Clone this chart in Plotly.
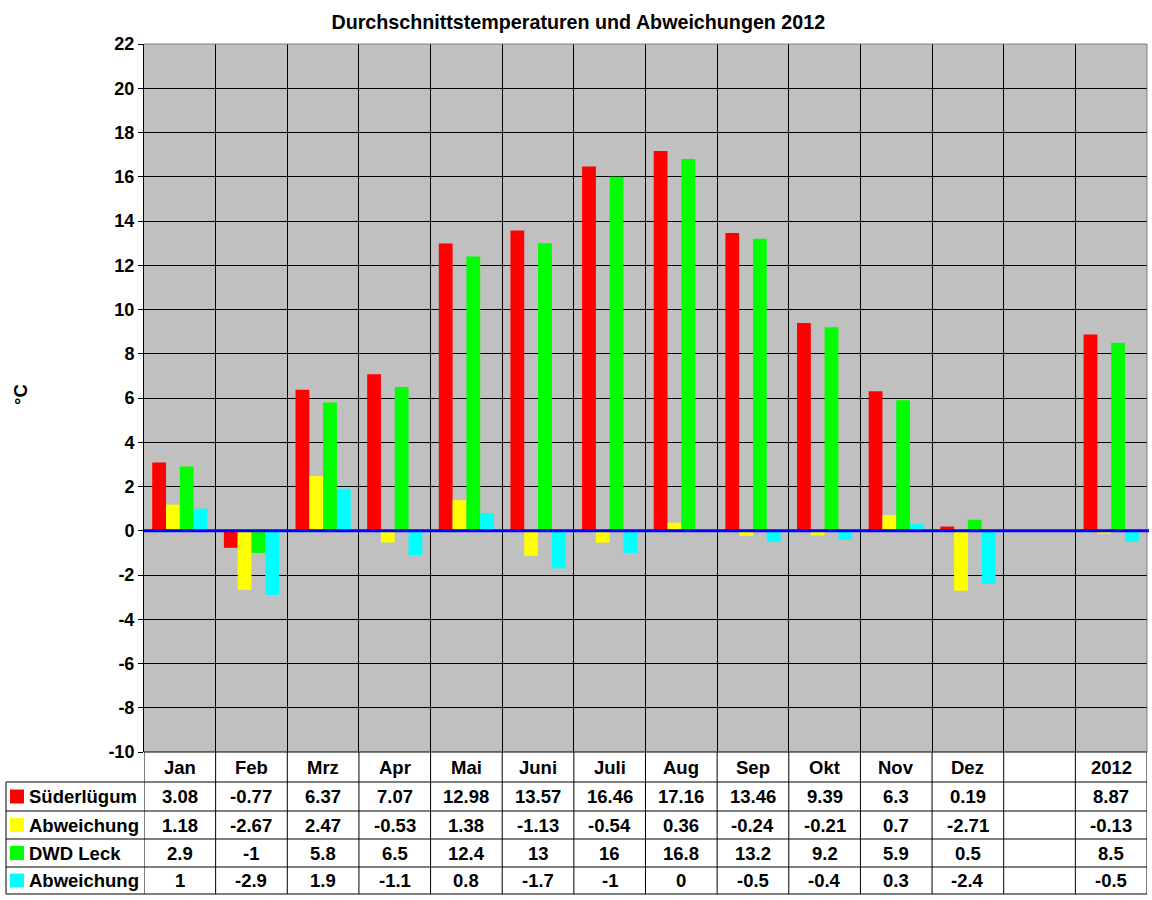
import plotly.graph_objects as go

months = ['Jan', 'Feb', 'Mrz', 'Apr', 'Mai', 'Juni', 'Juli', 'Aug', 'Sep', 'Okt', 'Nov', 'Dez', ' ', '2012']
sued = [3.08, -0.77, 6.37, 7.07, 12.98, 13.57, 16.46, 17.16, 13.46, 9.39, 6.3, 0.19, None, 8.87]
sued_abw = [1.18, -2.67, 2.47, -0.53, 1.38, -1.13, -0.54, 0.36, -0.24, -0.21, 0.7, -2.71, None, -0.13]
leck = [2.9, -1, 5.8, 6.5, 12.4, 13, 16, 16.8, 13.2, 9.2, 5.9, 0.5, None, 8.5]
leck_abw = [1, -2.9, 1.9, -1.1, 0.8, -1.7, -1, 0, -0.5, -0.4, 0.3, -2.4, None, -0.5]
y_ticks = [-10, -8, -6, -4, -2, 0, 2, 4, 6, 8, 10, 12, 14, 16, 18, 20, 22]

series = [
    ('Süderlügum', sued, '#FF0000'),
    ('Abweichung', sued_abw, '#FFFF00'),
    ('DWD Leck', leck, '#00FF00'),
    ('Abweichung', leck_abw, '#00FFFF'),
]

W, H = 1152, 900
L, R, T, B = 144, 5, 44, 148
ph = H - T - B
pw = W - L - R


def py(px):
    # pixel row -> paper y
    return (H - B - px) / ph


def fmt(v):
    return '' if v is None else f'{v:g}'


FAM = 'Arial, Liberation Sans, sans-serif'
fnt = dict(family=FAM, size=18.5, color='black', weight='bold')
tick_fnt = dict(family=FAM, size=18, color='black', weight='bold')

fig = go.Figure()
for name, vals, col in series:
    fig.add_trace(go.Bar(x=months, y=vals, name=name, marker_color=col, marker_line_width=0))

shapes = []
annotations = []
rows = [752, 782, 811, 839, 867, 894]
n = len(months)

# vertical table lines
for i in range(n + 1):
    shapes.append(dict(type='line', xref='x', yref='paper', x0=i - 0.5, x1=i - 0.5,
                       y0=0, y1=py(rows[-1]), line=dict(color='black', width=1)))
# horizontal table lines
for k, r in enumerate(rows):
    x0 = 0 if k == 0 else (6 - L) / pw
    shapes.append(dict(type='line', xref='paper', yref='paper', x0=x0, x1=1,
                       y0=py(r), y1=py(r), line=dict(color='black', width=1)))
shapes.append(dict(type='line', xref='paper', yref='paper', x0=(6 - L) / pw, x1=(6 - L) / pw,
                   y0=py(rows[1]), y1=py(rows[-1]), line=dict(color='black', width=1)))
# top / right plot border
shapes.append(dict(type='line', xref='paper', yref='paper', x0=0, x1=1, y0=1, y1=1,
                   line=dict(color='#808080', width=1)))
shapes.append(dict(type='line', xref='paper', yref='paper', x0=1, x1=1, y0=0, y1=1,
                   line=dict(color='#808080', width=1)))
# zero line on top of the bars
shapes.append(dict(type='line', xref='paper', yref='y', x0=0, x1=1.002, y0=0, y1=0,
                   line=dict(color='#0000FF', width=3), layer='above'))

# header row
for i, m in enumerate(months):
    annotations.append(dict(x=i, y=py((rows[0] + rows[1]) / 2), xref='x', yref='paper',
                            text=m.strip(), showarrow=False, font=fnt,
                            xanchor='center', yanchor='middle'))
# data rows
for k, (name, vals, col) in enumerate(series):
    mid = (rows[k + 1] + rows[k + 2]) / 2
    for i, v in enumerate(vals):
        annotations.append(dict(x=i, y=py(mid), xref='x', yref='paper', text=fmt(v),
                                showarrow=False, font=fnt, xanchor='center', yanchor='middle'))
    shapes.append(dict(type='rect', xref='paper', yref='paper', x0=(10 - L) / pw, x1=(24 - L) / pw,
                       y0=py(mid + 7), y1=py(mid - 7), fillcolor=col, line=dict(width=0)))
    annotations.append(dict(x=(27 - L) / pw, y=py(mid), xref='paper', yref='paper', text=name,
                            xanchor='left', yanchor='middle', showarrow=False, font=fnt))

annotations.append(dict(x=(20 - L) / pw, y=py(395), xref='paper', yref='paper', text='°C',
                        textangle=-90, showarrow=False, font=fnt,
                        xanchor='center', yanchor='middle'))

fig.update_layout(
    width=W,
    height=H,
    margin=dict(l=L, r=R, t=T, b=B),
    paper_bgcolor='white',
    plot_bgcolor='#C0C0C0',
    barmode='group',
    bargap=0.23,
    bargroupgap=0,
    showlegend=False,
    title=dict(text='Durchschnittstemperaturen und Abweichungen 2012', x=0.502, xanchor='center',
               y=1 - 22 / H, yanchor='middle', font=dict(family=FAM, size=19.7, color='black', weight='bold')),
    xaxis=dict(type='category', categoryorder='array', categoryarray=months,
               range=[-0.5, n - 0.5], showticklabels=False, ticks='',
               showgrid=True, tickson='boundaries', gridcolor='black', gridwidth=1,
               showline=False, zeroline=False),
    yaxis=dict(range=[-10, 22], tickmode='array', tickvals=y_ticks,
               ticktext=[str(t) for t in y_ticks],
               showgrid=True, gridcolor='black', gridwidth=1, zeroline=False,
               showline=True, linecolor='black', ticks='outside', ticklen=5,
               tickcolor='black', tickfont=tick_fnt),
    shapes=shapes,
    annotations=annotations,
)

fig.write_html('out.html', config={'displayModeBar': False},
               post_script="document.body.style.margin='0';document.body.style.overflow='hidden';")
